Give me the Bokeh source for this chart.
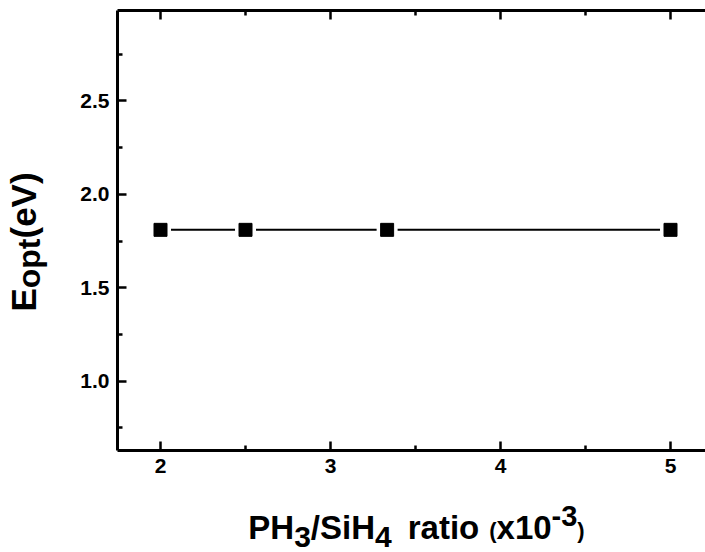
import math
from bokeh.plotting import figure
from bokeh.layouts import row, column
from bokeh.models import Range1d, LinearAxis, FixedTicker
from bokeh.core.properties import value
from bokeh.embed import file_html
from bokeh.resources import INLINE

# ---- data ----
ratio = [2.0, 2.5, 3.333, 5.0]          # PH3/SiH4 ratio (x10^-3)
e_opt = [1.81, 1.81, 1.81, 1.81]        # Eopt (eV)
x_ticks = [2, 3, 4, 5]
x_tick_labels = ["2", "3", "4", "5"]
x_minor = [1.5, 2.5, 3.5, 4.5]
y_ticks = [1.0, 1.5, 2.0, 2.5]
y_tick_labels = ["1.0", "1.5", "2.0", "2.5"]
y_minor = [0.75, 1.25, 1.75, 2.25, 2.75]

# ---- geometry (canvas pixels) ----
TOTAL_W, TOTAL_H = 705, 552
YT_W = 60                     # width of the strip holding the y title
FL, FT, FW, FH = 117, 10, 588, 440
MAIN_H = 492
BOT = MAIN_H - FT - FH
XT_H = TOTAL_H - MAIN_H       # strip holding the x title
X0, X1 = 1.747, 1.747 + FW / 170.0
Y0, Y1 = 0.629, 2.984
FONT = "Liberation Sans"

p = figure(title=None, frame_width=FW, frame_height=FH,
           x_range=Range1d(X0, X1), y_range=Range1d(Y0, Y1),
           output_backend="svg", toolbar_location=None,
           min_border_left=FL - YT_W, min_border_top=FT,
           min_border_bottom=BOT, min_border_right=0)
p.outline_line_color = None
p.grid.visible = False
p.background_fill_color = "white"
p.border_fill_color = "white"


def style_axis(ax, ticks, minor, labels, show=True):
    ax.ticker = FixedTicker(ticks=ticks, minor_ticks=minor)
    ax.axis_line_width = 3
    ax.axis_line_color = "black"
    ax.major_tick_in = 9
    ax.major_tick_out = 0
    ax.minor_tick_in = 5
    ax.minor_tick_out = 0
    ax.major_tick_line_width = 2.5
    ax.minor_tick_line_width = 2.5
    ax.major_tick_line_color = "black"
    ax.minor_tick_line_color = "black"
    ax.major_label_text_font = FONT
    ax.major_label_text_font_style = "bold"
    ax.major_label_text_color = "black"
    ax.major_label_text_font_size = "21px"
    if show:
        ax.major_label_overrides = {t: l for t, l in zip(ticks, labels)}
        ax.major_label_standoff = 8
    else:
        ax.major_label_overrides = {t: "" for t in ticks}
        ax.major_label_standoff = 0


style_axis(p.xaxis[0], x_ticks, x_minor, x_tick_labels)
style_axis(p.yaxis[0], y_ticks, y_minor, y_tick_labels)
top = LinearAxis()
style_axis(top, x_ticks, x_minor, x_tick_labels, show=False)
p.add_layout(top, "above")

# ---- series ----
p.line(ratio, e_opt, line_width=2, line_color="black")
p.scatter(ratio, e_opt, marker="square", size=21, fill_color="white", line_color=None)
p.scatter(ratio, e_opt, marker="square", size=13, fill_color="black", line_color="black")


# ---- title strips (frames aligned with the main frame, data = canvas pixels) ----
def strip(fw, fh, xr, yr, left=0, top=0, bottom=0):
    f = figure(title=None, frame_width=fw, frame_height=fh,
               x_range=Range1d(*xr), y_range=Range1d(*yr),
               output_backend="svg", toolbar_location=None,
               x_axis_location=None, y_axis_location=None,
               min_border_left=left, min_border_right=0,
               min_border_top=top, min_border_bottom=bottom)
    f.outline_line_color = None
    f.grid.visible = False
    f.background_fill_color = "white"
    f.border_fill_color = "white"
    return f


W = {"P": .667, "H": .722, "S": .667, "i": .278, "/": .278, " ": .278, "r": .389,
     "a": .556, "t": .333, "o": .611, "(": .333, ")": .333, "x": .556, "-": .333,
     "E": .667, "p": .611, "e": .556, "V": .667}
for d in "0123456789":
    W[d] = .556


def tw(s, size):
    return sum(W.get(c, .556) for c in s) * size


def piece(f, text, x, y, size, angle=0.0):
    f.text(x=[x], y=[y], text=[text], text_font=value(FONT), text_font_style="bold",
           text_font_size=f"{size}px", text_color="black",
           text_align="left", text_baseline="alphabetic", angle=angle)


# y title strip: frame spans canvas x 0..60, y 10..450 ; data y = TOTAL_H - canvas y
yfig = strip(YT_W, FH, (0, YT_W), (TOTAL_H - FT - FH, TOTAL_H - FT), top=FT, bottom=BOT)
yparts = [("E", 35, 0, 0), ("opt", 32, 5, 0), ("(eV)", 35, 0, 0)]
total = sum(tw(t, s) + g for t, s, _, g in yparts)
sy = 241.5 + total / 2
basex = 23
for t, s, shift, g in yparts:
    piece(yfig, t, basex + shift, TOTAL_H - sy, s, angle=math.pi / 2)
    sy -= tw(t, s) + g

# x title strip: frame spans canvas x 117..705, y 492..552
xfig = strip(FW, XT_H, (FL, FL + FW), (0, XT_H), left=FL - YT_W)
xparts = [("PH", 33, 0, 0), ("3", 30, 9, 0), ("/SiH", 33, 0, 0), ("4", 30, 9, 16),
          ("ratio", 33, 0, 10), ("(", 22, 3, 0), ("x10", 33, 0, 0), ("-3", 29, -12, 0),
          (")", 22, 3, 0)]
total = sum(tw(t, s) + g for t, s, _, g in xparts)
sx = 416 - total / 2
base = 527
for t, s, shift, g in xparts:
    piece(xfig, t, sx, TOTAL_H - (base + shift), s)
    sx += tw(t, s) + g

layout = row(yfig, column(p, xfig, spacing=0), spacing=0)
open("out.html", "w").write(file_html(layout, INLINE))
